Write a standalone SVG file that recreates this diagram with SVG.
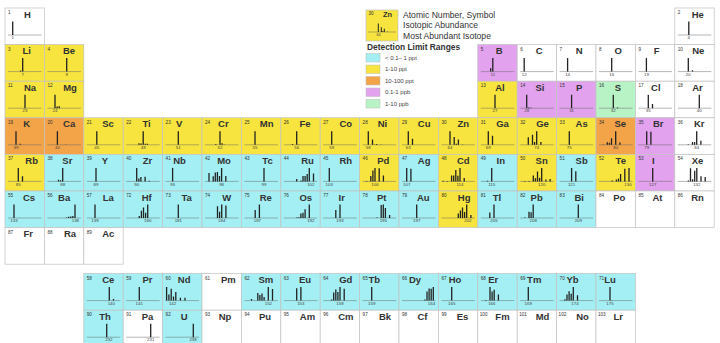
<svg xmlns="http://www.w3.org/2000/svg" width="720" height="343" viewBox="0 0 720 343">
<style>
.c{stroke:#c2c2c2;stroke-width:0.7}
.w{fill:#ffffff}.y{fill:#f7e43e}.o{fill:#f3a448}.p{fill:#e2a2ee}.g{fill:#b8f3c6}.b{fill:#a3eff3}
.n{font-family:"Liberation Sans",Arial,sans-serif;font-size:4.6px;fill:#333}
.s{font-family:"Liberation Sans",Arial,sans-serif;font-size:9.5px;font-weight:bold;fill:#333;text-anchor:middle}
.m{font-family:"Liberation Sans",Arial,sans-serif;font-size:4.4px;fill:#444;text-anchor:middle}
.ax{stroke:#6a6a6a;stroke-width:0.5;fill:none}
.br{stroke:#222;stroke-width:1.3;fill:none}
.lt{font-family:"Liberation Sans",Arial,sans-serif;font-size:8.6px;fill:#333}
.lh{font-family:"Liberation Sans",Arial,sans-serif;font-size:8.4px;font-weight:bold;fill:#333}
.ls{font-family:"Liberation Sans",Arial,sans-serif;font-size:6px;fill:#444}
.sw{stroke:#bbb;stroke-width:0.5}
</style>
<defs><path id="ax" class="ax" d="M3 27H36.5"/></defs>

<g id="legend">
<g id="legend-key">
<rect class="c y" x="366" y="10" width="32" height="31"/>
<text class="n" x="368.5" y="15">30</text>
<text class="s" x="387.5" y="17.3" style="font-size:7.5px">Zn</text>
<path class="ax" d="M368 32H396"/>
<path class="br" style="stroke-width:1" d="M378.3 32v-8.5M381.3 32v-4.8M382.8 32v-0.9M384.3 32v-3.3M387.3 32v-0.4"/>
<text class="m" x="378.5" y="36" style="font-size:3.8px">64</text>
</g>
<text class="lt" x="403" y="17.5">Atomic Number, Symbol</text>
<text class="lt" x="403" y="28">Isotopic Abundance</text>
<text class="lt" x="403" y="38.5">Most Abundant Isotope</text>
<text class="lh" x="367" y="50">Detection Limit Ranges</text>
<rect class="sw b" x="366" y="53.5" width="14" height="8.5"/>
<rect class="sw y" x="366" y="65" width="14" height="8.5"/>
<rect class="sw o" x="366" y="76.5" width="14" height="8.5"/>
<rect class="sw p" x="366" y="88" width="14" height="8.5"/>
<rect class="sw g" x="366" y="99.5" width="14" height="8.5"/>
<text class="ls" x="385" y="59.8">&lt; 0.1– 1 ppt</text>
<text class="ls" x="385" y="71.3">1-10 ppt</text>
<text class="ls" x="385" y="82.8">10-100 ppt</text>
<text class="ls" x="385" y="94.3">0.1-1 ppb</text>
<text class="ls" x="385" y="105.8">1-10 ppb</text>
</g>

<g id="H" transform="translate(5,8)"><rect class="c w" width="39.4" height="36.6"/><text class="n" x="3" y="6">1</text><text class="s" x="22.5" y="9.5">H</text><use href="#ax"/><path class="br" d="M7.7 27v-13.5"/><text class="m" x="7.7" y="31.3">1</text></g>
<g id="He" transform="translate(674.8,8)"><rect class="c w" width="39.4" height="36.6"/><text class="n" x="3" y="6">2</text><text class="s" x="23" y="9.5">He</text><use href="#ax"/><path class="br" d="M14 27v-13.5"/><text class="m" x="14" y="31.3">4</text></g>

<g id="Li" transform="translate(5,44.6)"><rect class="c y" width="39.4" height="36.6"/><text class="n" x="3" y="6">3</text><text class="s" x="21.7" y="9.5">Li</text><use href="#ax"/><path class="br" d="M17.7 27v-13.5M15.6 27v-1.1"/><text class="m" x="17.7" y="31.3">7</text></g>
<g id="Be" transform="translate(44.4,44.6)"><rect class="c y" width="39.4" height="36.6"/><text class="n" x="3" y="6">4</text><text class="s" x="24.7" y="9.5">Be</text><use href="#ax"/><path class="br" d="M22.3 27v-13.5"/><text class="m" x="22.3" y="31.3">9</text></g>
<g id="B" transform="translate(477.8,44.6)"><rect class="c p" width="39.4" height="36.6"/><text class="n" x="3" y="6">5</text><text class="s" x="21.4" y="9.5">B</text><use href="#ax"/><path class="br" d="M15 27v-13.5M12.9 27v-3.4"/><text class="m" x="15" y="31.3">11</text></g>
<g id="C" transform="translate(517.2,44.6)"><rect class="c w" width="39.4" height="36.6"/><text class="n" x="3" y="6">6</text><text class="s" x="22" y="9.5">C</text><use href="#ax"/><path class="br" d="M7 27v-13.5"/><text class="m" x="7" y="31.3">12</text></g>
<g id="N" transform="translate(556.6,44.6)"><rect class="c w" width="39.4" height="36.6"/><text class="n" x="3" y="6">7</text><text class="s" x="22.6" y="9.5">N</text><use href="#ax"/><path class="br" d="M11 27v-13.5"/><text class="m" x="11" y="31.3">14</text></g>
<g id="O" transform="translate(596,44.6)"><rect class="c w" width="39.4" height="36.6"/><text class="n" x="3" y="6">8</text><text class="s" x="22.3" y="9.5">O</text><use href="#ax"/><path class="br" d="M15.7 27v-13.5"/><text class="m" x="15.7" y="31.3">16</text></g>
<g id="F" transform="translate(635.4,44.6)"><rect class="c w" width="39.4" height="36.6"/><text class="n" x="3" y="6">9</text><text class="s" x="21.3" y="9.5">F</text><use href="#ax"/><path class="br" d="M11 27v-13.5"/><text class="m" x="11" y="31.3">19</text></g>
<g id="Ne" transform="translate(674.8,44.6)"><rect class="c w" width="39.4" height="36.6"/><text class="n" x="3" y="6">10</text><text class="s" x="23.5" y="9.5">Ne</text><use href="#ax"/><path class="br" d="M13.5 27v-13.5M17.7 27v-1.4"/><text class="m" x="13.5" y="31.3">20</text></g>

<g id="Na" transform="translate(5,81.2)"><rect class="c y" width="39.4" height="36.6"/><text class="n" x="3" y="6">11</text><text class="s" x="25" y="9.5">Na</text><use href="#ax"/><path class="br" d="M20 27v-13.5"/><text class="m" x="20" y="31.3">23</text></g>
<g id="Mg" transform="translate(44.4,81.2)"><rect class="c y" width="39.4" height="36.6"/><text class="n" x="3" y="6">12</text><text class="s" x="25.6" y="9.5">Mg</text><use href="#ax"/><path class="br" d="M10.6 27v-13.5M12.7 27v-1.7M14.8 27v-1.9"/><text class="m" x="10.6" y="31.3">24</text></g>
<g id="Al" transform="translate(477.8,81.2)"><rect class="c y" width="39.4" height="36.6"/><text class="n" x="3" y="6">13</text><text class="s" x="22.2" y="9.5">Al</text><use href="#ax"/><path class="br" d="M17.2 27v-13.5"/><text class="m" x="17.2" y="31.3">27</text></g>
<g id="Si" transform="translate(517.2,81.2)"><rect class="c p" width="39.4" height="36.6"/><text class="n" x="3" y="6">14</text><text class="s" x="22.8" y="9.5">Si</text><use href="#ax"/><path class="br" d="M9.5 27v-13.5M11.6 27v-0.7M13.7 27v-0.5"/><text class="m" x="9.5" y="31.3">28</text></g>
<g id="P" transform="translate(556.6,81.2)"><rect class="c p" width="39.4" height="36.6"/><text class="n" x="3" y="6">15</text><text class="s" x="22.7" y="9.5">P</text><use href="#ax"/><path class="br" d="M15 27v-13.5"/><text class="m" x="15" y="31.3">31</text></g>
<g id="S" transform="translate(596,81.2)"><rect class="c g" width="39.4" height="36.6"/><text class="n" x="3" y="6">16</text><text class="s" x="21.8" y="9.5">S</text><use href="#ax"/><path class="br" d="M17.3 27v-13.5M21.5 27v-0.6"/><text class="m" x="17.3" y="31.3">32</text></g>
<g id="Cl" transform="translate(635.4,81.2)"><rect class="c w" width="39.4" height="36.6"/><text class="n" x="3" y="6">17</text><text class="s" x="20.4" y="9.5">Cl</text><use href="#ax"/><path class="br" d="M12.9 27v-13.5M17.1 27v-4.3"/><text class="m" x="12.9" y="31.3">35</text></g>
<g id="Ar" transform="translate(674.8,81.2)"><rect class="c w" width="39.4" height="36.6"/><text class="n" x="3" y="6">18</text><text class="s" x="22.7" y="9.5">Ar</text><use href="#ax"/><path class="br" d="M24.5 27v-13.5"/><text class="m" x="24.5" y="31.3">40</text></g>

<g id="K" transform="translate(5,117.8)"><rect class="c o" width="39.4" height="36.6"/><text class="n" x="3" y="6">19</text><text class="s" x="21.7" y="9.5">K</text><use href="#ax"/><path class="br" d="M11 27v-13.5M15.2 27v-1"/><text class="m" x="11" y="31.3">39</text></g>
<g id="Ca" transform="translate(44.4,117.8)"><rect class="c o" width="39.4" height="36.6"/><text class="n" x="3" y="6">20</text><text class="s" x="24.8" y="9.5">Ca</text><use href="#ax"/><path class="br" d="M13 27v-13.5M21.4 27v-0.4"/><text class="m" x="13" y="31.3">40</text></g>
<g id="Sc" transform="translate(83.8,117.8)"><rect class="c y" width="39.4" height="36.6"/><text class="n" x="3" y="6">21</text><text class="s" x="24.2" y="9.5">Sc</text><use href="#ax"/><path class="br" d="M13 27v-13.5"/><text class="m" x="13" y="31.3">45</text></g>
<g id="Ti" transform="translate(123.2,117.8)"><rect class="c y" width="39.4" height="36.6"/><text class="n" x="3" y="6">22</text><text class="s" x="23.4" y="9.5">Ti</text><use href="#ax"/><path class="br" d="M20 27v-13.5M15.8 27v-1.5M17.9 27v-1.4M22.1 27v-1M24.2 27v-1"/><text class="m" x="20" y="31.3">48</text></g>
<g id="V" transform="translate(162.6,117.8)"><rect class="c y" width="39.4" height="36.6"/><text class="n" x="3" y="6">23</text><text class="s" x="16.5" y="9.5">V</text><use href="#ax"/><path class="br" d="M15.7 27v-13.5"/><text class="m" x="15.7" y="31.3">51</text></g>
<g id="Cr" transform="translate(202,117.8)"><rect class="c y" width="39.4" height="36.6"/><text class="n" x="3" y="6">24</text><text class="s" x="21.3" y="9.5">Cr</text><use href="#ax"/><path class="br" d="M18 27v-13.5M13.8 27v-0.7M20.1 27v-1.5M22.2 27v-0.4"/><text class="m" x="18" y="31.3">52</text></g>
<g id="Mn" transform="translate(241.4,117.8)"><rect class="c y" width="39.4" height="36.6"/><text class="n" x="3" y="6">25</text><text class="s" x="25.3" y="9.5">Mn</text><use href="#ax"/><path class="br" d="M13.6 27v-13.5"/><text class="m" x="13.6" y="31.3">55</text></g>
<g id="Fe" transform="translate(280.8,117.8)"><rect class="c y" width="39.4" height="36.6"/><text class="n" x="3" y="6">26</text><text class="s" x="24.2" y="9.5">Fe</text><use href="#ax"/><path class="br" d="M15.9 27v-13.5M11.7 27v-0.9M18 27v-0.4"/><text class="m" x="15.9" y="31.3">56</text></g>
<g id="Co" transform="translate(320.2,117.8)"><rect class="c y" width="39.4" height="36.6"/><text class="n" x="3" y="6">27</text><text class="s" x="25.6" y="9.5">Co</text><use href="#ax"/><path class="br" d="M11.5 27v-13.5"/><text class="m" x="11.5" y="31.3">59</text></g>
<g id="Ni" transform="translate(359.6,117.8)"><rect class="c y" width="39.4" height="36.6"/><text class="n" x="3" y="6">28</text><text class="s" x="22.9" y="9.5">Ni</text><use href="#ax"/><path class="br" d="M8.7 27v-13.5M12.9 27v-5.2M15 27v-0.4M17.1 27v-0.7M21.3 27v-0.4"/><text class="m" x="8.7" y="31.3">58</text></g>
<g id="Cu" transform="translate(399,117.8)"><rect class="c y" width="39.4" height="36.6"/><text class="n" x="3" y="6">29</text><text class="s" x="25.2" y="9.5">Cu</text><use href="#ax"/><path class="br" d="M9.3 27v-13.5M13.5 27v-6"/><text class="m" x="9.3" y="31.3">63</text></g>
<g id="Zn" transform="translate(438.4,117.8)"><rect class="c y" width="39.4" height="36.6"/><text class="n" x="3" y="6">30</text><text class="s" x="24.9" y="9.5">Zn</text><use href="#ax"/><path class="br" d="M11.6 27v-13.5M15.8 27v-7.8M17.9 27v-1.1M20 27v-5.2M24.2 27v-0.4"/><text class="m" x="11.6" y="31.3">64</text></g>
<g id="Ga" transform="translate(477.8,117.8)"><rect class="c y" width="39.4" height="36.6"/><text class="n" x="3" y="6">31</text><text class="s" x="24.7" y="9.5">Ga</text><use href="#ax"/><path class="br" d="M10.5 27v-13.5M14.7 27v-9"/><text class="m" x="10.5" y="31.3">69</text></g>
<g id="Ge" transform="translate(517.2,117.8)"><rect class="c y" width="39.4" height="36.6"/><text class="n" x="3" y="6">32</text><text class="s" x="25.3" y="9.5">Ge</text><use href="#ax"/><path class="br" d="M19.5 27v-13.5M11.1 27v-7.6M15.3 27v-10.1M17.4 27v-2.9M23.7 27v-2.9"/><text class="m" x="19.5" y="31.3">74</text></g>
<g id="As" transform="translate(556.6,117.8)"><rect class="c y" width="39.4" height="36.6"/><text class="n" x="3" y="6">33</text><text class="s" x="25.1" y="9.5">As</text><use href="#ax"/><path class="br" d="M12.7 27v-13.5"/><text class="m" x="12.7" y="31.3">75</text></g>
<g id="Se" transform="translate(596,117.8)"><rect class="c o" width="39.4" height="36.6"/><text class="n" x="3" y="6">34</text><text class="s" x="24.3" y="9.5">Se</text><use href="#ax"/><path class="br" d="M19.7 27v-13.5M7.1 27v-0.4M11.3 27v-2.6M13.4 27v-2.1M15.5 27v-6.5M23.9 27v-2.4"/><text class="m" x="19.7" y="31.3">80</text></g>
<g id="Br" transform="translate(635.4,117.8)"><rect class="c p" width="39.4" height="36.6"/><text class="n" x="3" y="6">35</text><text class="s" x="22.9" y="9.5">Br</text><use href="#ax"/><path class="br" d="M11.3 27v-13.5M15.5 27v-13.1"/><text class="m" x="11.3" y="31.3">79</text></g>
<g id="Kr" transform="translate(674.8,117.8)"><rect class="c w" width="39.4" height="36.6"/><text class="n" x="3" y="6">36</text><text class="s" x="24.4" y="9.5">Kr</text><use href="#ax"/><path class="br" d="M21.9 27v-13.5M13.5 27v-0.5M17.7 27v-2.7M19.8 27v-2.7M26.1 27v-4.1"/><text class="m" x="21.9" y="31.3">84</text></g>

<g id="Rb" transform="translate(5,154.4)"><rect class="c y" width="39.4" height="36.6"/><text class="n" x="3" y="6">37</text><text class="s" x="26.7" y="9.5">Rb</text><use href="#ax"/><path class="br" d="M13.3 27v-13.5M17.5 27v-5.2"/><text class="m" x="13.3" y="31.3">85</text></g>
<g id="Sr" transform="translate(44.4,154.4)"><rect class="c b" width="39.4" height="36.6"/><text class="n" x="3" y="6">38</text><text class="s" x="23" y="9.5">Sr</text><use href="#ax"/><path class="br" d="M18.3 27v-13.5M14.1 27v-1.6M16.2 27v-1.1"/><text class="m" x="18.3" y="31.3">88</text></g>
<g id="Y" transform="translate(83.8,154.4)"><rect class="c b" width="39.4" height="36.6"/><text class="n" x="3" y="6">39</text><text class="s" x="21" y="9.5">Y</text><use href="#ax"/><path class="br" d="M12.2 27v-13.5"/><text class="m" x="12.2" y="31.3">89</text></g>
<g id="Zr" transform="translate(123.2,154.4)"><rect class="c b" width="39.4" height="36.6"/><text class="n" x="3" y="6">40</text><text class="s" x="24.3" y="9.5">Zr</text><use href="#ax"/><path class="br" d="M13.5 27v-13.5M15.6 27v-2.9M17.7 27v-4.5M21.9 27v-4.6M26.1 27v-0.7"/><text class="m" x="13.5" y="31.3">90</text></g>
<g id="Nb" transform="translate(162.6,154.4)"><rect class="c b" width="39.4" height="36.6"/><text class="n" x="3" y="6">41</text><text class="s" x="17" y="9.5">Nb</text><use href="#ax"/><path class="br" d="M10 27v-13.5"/><text class="m" x="10" y="31.3">93</text></g>
<g id="Mo" transform="translate(202,154.4)"><rect class="c b" width="39.4" height="36.6"/><text class="n" x="3" y="6">42</text><text class="s" x="22" y="9.5">Mo</text><use href="#ax"/><path class="br" d="M19.6 27v-13.5M7 27v-8.3M11.2 27v-5.2M13.3 27v-8.9M15.4 27v-9.3M17.5 27v-5.4M23.8 27v-5.4"/><text class="m" x="19.6" y="31.3">98</text></g>
<g id="Tc" transform="translate(241.4,154.4)"><rect class="c b" width="39.4" height="36.6"/><text class="n" x="3" y="6">43</text><text class="s" x="26.1" y="9.5">Tc</text><use href="#ax"/><path class="br" d="M22.6 27v-13.5"/><text class="m" x="22.6" y="31.3">99</text></g>
<g id="Ru" transform="translate(280.8,154.4)"><rect class="c b" width="39.4" height="36.6"/><text class="n" x="3" y="6">44</text><text class="s" x="26.7" y="9.5">Ru</text><use href="#ax"/><path class="br" d="M28.5 27v-13.5M15.9 27v-2.4M20.1 27v-0.8M22.2 27v-5.5M24.3 27v-5.4M26.4 27v-7.3M32.7 27v-8"/><text class="m" x="30" y="31.3">102</text></g>
<g id="Rh" transform="translate(320.2,154.4)"><rect class="c b" width="39.4" height="36.6"/><text class="n" x="3" y="6">45</text><text class="s" x="25.6" y="9.5">Rh</text><use href="#ax"/><path class="br" d="M9.1 27v-13.5"/><text class="m" x="9.1" y="31.3">103</text></g>
<g id="Pd" transform="translate(359.6,154.4)"><rect class="c y" width="39.4" height="36.6"/><text class="n" x="3" y="6">46</text><text class="s" x="23.7" y="9.5">Pd</text><use href="#ax"/><path class="br" d="M15.4 27v-13.5M7 27v-0.5M11.2 27v-5.5M13.3 27v-11M19.6 27v-13.1M23.8 27v-5.8"/><text class="m" x="15.4" y="31.3">106</text></g>
<g id="Ag" transform="translate(399,154.4)"><rect class="c b" width="39.4" height="36.6"/><text class="n" x="3" y="6">47</text><text class="s" x="25.2" y="9.5">Ag</text><use href="#ax"/><path class="br" d="M7.7 27v-13.5M11.9 27v-12.6"/><text class="m" x="7.7" y="31.3">107</text></g>
<g id="Cd" transform="translate(438.4,154.4)"><rect class="c y" width="39.4" height="36.6"/><text class="n" x="3" y="6">48</text><text class="s" x="24.9" y="9.5">Cd</text><use href="#ax"/><path class="br" d="M21.6 27v-13.5M4.8 27v-0.6M9 27v-0.4M13.2 27v-5.9M15.3 27v-6M17.4 27v-11.3M19.5 27v-5.7M25.8 27v-3.5"/><text class="m" x="21.6" y="31.3">114</text></g>
<g id="In" transform="translate(477.8,154.4)"><rect class="c b" width="39.4" height="36.6"/><text class="n" x="3" y="6">49</text><text class="s" x="23" y="9.5">In</text><use href="#ax"/><path class="br" d="M13.9 27v-13.5M9.7 27v-0.6"/><text class="m" x="13.9" y="31.3">115</text></g>
<g id="Sn" transform="translate(517.2,154.4)"><rect class="c y" width="39.4" height="36.6"/><text class="n" x="3" y="6">50</text><text class="s" x="24.5" y="9.5">Sn</text><use href="#ax"/><path class="br" d="M24.5 27v-13.5M7.7 27v-0.4M11.9 27v-0.4M16.1 27v-6M18.2 27v-3.2M20.3 27v-10M22.4 27v-3.6M28.7 27v-1.9M32.9 27v-2.4"/><text class="m" x="24.5" y="31.3">120</text></g>
<g id="Sb" transform="translate(556.6,154.4)"><rect class="c b" width="39.4" height="36.6"/><text class="n" x="3" y="6">51</text><text class="s" x="25.1" y="9.5">Sb</text><use href="#ax"/><path class="br" d="M15 27v-13.5M19.2 27v-10.1"/><text class="m" x="15" y="31.3">121</text></g>
<g id="Te" transform="translate(596,154.4)"><rect class="c y" width="39.4" height="36.6"/><text class="n" x="3" y="6">52</text><text class="s" x="24.8" y="9.5">Te</text><use href="#ax"/><path class="br" d="M33 27v-13.5M28.8 27v-12.6M24.6 27v-7.5M22.5 27v-2.8M20.4 27v-1.9M16.2 27v-1"/><text class="m" x="32" y="31.3">130</text></g>
<g id="I" transform="translate(635.4,154.4)"><rect class="c p" width="39.4" height="36.6"/><text class="n" x="3" y="6">53</text><text class="s" x="17.9" y="9.5">I</text><use href="#ax"/><path class="br" d="M17.3 27v-13.5"/><text class="m" x="17.3" y="31.3">127</text></g>
<g id="Xe" transform="translate(674.8,154.4)"><rect class="c w" width="39.4" height="36.6"/><text class="n" x="3" y="6">54</text><text class="s" x="22.7" y="9.5">Xe</text><use href="#ax"/><path class="br" d="M22 27v-13.5M15.7 27v-13.2M19.9 27v-10.6M26.2 27v-5.2M30.4 27v-4.5M17.8 27v-2.1M13.6 27v-1"/><text class="m" x="22" y="31.3">132</text></g>

<g id="Cs" transform="translate(5,191)"><rect class="c b" width="39.4" height="36.6"/><text class="n" x="3" y="6">55</text><text class="s" x="24" y="9.5">Cs</text><use href="#ax"/><path class="br" d="M9 27v-13.5"/><text class="m" x="9" y="31.3">133</text></g>
<g id="Ba" transform="translate(44.4,191)"><rect class="c b" width="39.4" height="36.6"/><text class="n" x="3" y="6">56</text><text class="s" x="19.8" y="9.5">Ba</text><use href="#ax"/><path class="br" d="M30.6 27v-13.5M28.5 27v-2.1M26.4 27v-1.5M24.3 27v-1.2M22.2 27v-0.5"/><text class="m" x="31" y="31.3">138</text></g>
<g id="La" transform="translate(83.8,191)"><rect class="c b" width="39.4" height="36.6"/><text class="n" x="3" y="6">57</text><text class="s" x="24.5" y="9.5">La</text><use href="#ax"/><path class="br" d="M11.2 27v-13.5"/><text class="m" x="11.2" y="31.3">139</text></g>
<g id="Hf" transform="translate(123.2,191)"><rect class="c b" width="39.4" height="36.6"/><text class="n" x="3" y="6">72</text><text class="s" x="23.5" y="9.5">Hf</text><use href="#ax"/><path class="br" d="M24.5 27v-13.5M22.4 27v-5.2M20.3 27v-10.5M18.2 27v-7.2M16.1 27v-2"/><text class="m" x="24.5" y="31.3">180</text></g>
<g id="Ta" transform="translate(162.6,191)"><rect class="c b" width="39.4" height="36.6"/><text class="n" x="3" y="6">73</text><text class="s" x="24" y="9.5">Ta</text><use href="#ax"/><path class="br" d="M15.7 27v-13.5"/><text class="m" x="15.7" y="31.3">181</text></g>
<g id="W" transform="translate(202,191)"><rect class="c b" width="39.4" height="36.6"/><text class="n" x="3" y="6">74</text><text class="s" x="24.7" y="9.5">W</text><use href="#ax"/><path class="br" d="M19.7 27v-13.5M15.5 27v-11.7M17.6 27v-6.3M23.9 27v-12.5"/><text class="m" x="19.7" y="31.3">184</text></g>
<g id="Re" transform="translate(241.4,191)"><rect class="c b" width="39.4" height="36.6"/><text class="n" x="3" y="6">75</text><text class="s" x="24.4" y="9.5">Re</text><use href="#ax"/><path class="br" d="M18 27v-13.5M13.8 27v-8.1"/><text class="m" x="16" y="31.3">187</text></g>
<g id="Os" transform="translate(280.8,191)"><rect class="c b" width="39.4" height="36.6"/><text class="n" x="3" y="6">76</text><text class="s" x="25" y="9.5">Os</text><use href="#ax"/><path class="br" d="M28.5 27v-13.5M24.3 27v-8.7M22.2 27v-5.3M20.1 27v-4.4M18 27v-0.7M15.9 27v-0.5"/><text class="m" x="30" y="31.3">192</text></g>
<g id="Ir" transform="translate(320.2,191)"><rect class="c b" width="39.4" height="36.6"/><text class="n" x="3" y="6">77</text><text class="s" x="21.5" y="9.5">Ir</text><use href="#ax"/><path class="br" d="M19.8 27v-13.5M15.6 27v-8"/><text class="m" x="19.8" y="31.3">193</text></g>
<g id="Pt" transform="translate(359.6,191)"><rect class="c b" width="39.4" height="36.6"/><text class="n" x="3" y="6">78</text><text class="s" x="22.1" y="9.5">Pt</text><use href="#ax"/><path class="br" d="M23.7 27v-13.5M21.6 27v-13.1M25.8 27v-10.1M30 27v-3M17.4 27v-0.4"/><text class="m" x="23.7" y="31.3">195</text></g>
<g id="Au" transform="translate(399,191)"><rect class="c b" width="39.4" height="36.6"/><text class="n" x="3" y="6">79</text><text class="s" x="24.3" y="9.5">Au</text><use href="#ax"/><path class="br" d="M17.7 27v-13.5"/><text class="m" x="17.7" y="31.3">197</text></g>
<g id="Hg" transform="translate(438.4,191)"><rect class="c y" width="39.4" height="36.6"/><text class="n" x="3" y="6">80</text><text class="s" x="25.8" y="9.5">Hg</text><use href="#ax"/><path class="br" d="M28.3 27v-13.5M19.9 27v-4.5M22 27v-7.6M24.1 27v-10.4M26.2 27v-6M32.5 27v-3.1"/><text class="m" x="29.5" y="31.3">202</text></g>
<g id="Tl" transform="translate(477.8,191)"><rect class="c b" width="39.4" height="36.6"/><text class="n" x="3" y="6">81</text><text class="s" x="19.2" y="9.5">Tl</text><use href="#ax"/><path class="br" d="M16.2 27v-13.5M12 27v-5.6"/><text class="m" x="16.2" y="31.3">205</text></g>
<g id="Pb" transform="translate(517.2,191)"><rect class="c b" width="39.4" height="36.6"/><text class="n" x="3" y="6">82</text><text class="s" x="19.5" y="9.5">Pb</text><use href="#ax"/><path class="br" d="M16 27v-13.5M13.9 27v-5.7M11.8 27v-6.2M7.6 27v-0.4"/><text class="m" x="16" y="31.3">208</text></g>
<g id="Bi" transform="translate(556.6,191)"><rect class="c b" width="39.4" height="36.6"/><text class="n" x="3" y="6">83</text><text class="s" x="22.6" y="9.5">Bi</text><use href="#ax"/><path class="br" d="M21.7 27v-13.5"/><text class="m" x="21.7" y="31.3">209</text></g>
<g id="Po" transform="translate(596,191)"><rect class="c w" width="39.4" height="36.6"/><text class="n" x="3" y="6">84</text><text class="s" x="23.2" y="9.5">Po</text></g>
<g id="At" transform="translate(635.4,191)"><rect class="c w" width="39.4" height="36.6"/><text class="n" x="3" y="6">85</text><text class="s" x="22.1" y="9.5">At</text></g>
<g id="Rn" transform="translate(674.8,191)"><rect class="c w" width="39.4" height="36.6"/><text class="n" x="3" y="6">86</text><text class="s" x="22.7" y="9.5">Rn</text></g>

<g id="Fr" transform="translate(5,227.6)"><rect class="c w" width="39.4" height="36.6"/><text class="n" x="3" y="6">87</text><text class="s" x="23.3" y="9.5">Fr</text></g>
<g id="Ra" transform="translate(44.4,227.6)"><rect class="c w" width="39.4" height="36.6"/><text class="n" x="3" y="6">88</text><text class="s" x="25.6" y="9.5">Ra</text></g>
<g id="Ac" transform="translate(83.8,227.6)"><rect class="c w" width="39.4" height="36.6"/><text class="n" x="3" y="6">89</text><text class="s" x="24.5" y="9.5">Ac</text></g>

<g id="Ce" transform="translate(83.8,273.6)"><rect class="c b" width="39.4" height="36.6"/><text class="n" x="3" y="6">58</text><text class="s" x="24.5" y="9.5">Ce</text><use href="#ax"/><path class="br" d="M25.5 27v-13.5M29.7 27v-1.7"/><text class="m" x="27.5" y="31.3">140</text></g>
<g id="Pr" transform="translate(123.2,273.6)"><rect class="c b" width="39.4" height="36.6"/><text class="n" x="3" y="6">59</text><text class="s" x="24.3" y="9.5">Pr</text><use href="#ax"/><path class="br" d="M16.1 27v-13.5"/><text class="m" x="16.1" y="31.3">141</text></g>
<g id="Nd" transform="translate(162.6,273.6)"><rect class="c b" width="39.4" height="36.6"/><text class="n" x="3" y="6">60</text><text class="s" x="21.6" y="9.5">Nd</text><use href="#ax"/><path class="br" d="M4 27v-13.5M6.3 27v-6.1M8.6 27v-11.8M10.9 27v-4.1M13.2 27v-8.5M17.8 27v-2.8M22.4 27v-2.8"/><text class="m" x="10" y="31.3">142</text></g>
<g id="Pm" transform="translate(202,273.6)"><rect class="c w" width="39.4" height="36.6"/><text class="n" x="3" y="6">61</text><text class="s" x="26.3" y="9.5">Pm</text></g>
<g id="Sm" transform="translate(241.4,273.6)"><rect class="c b" width="39.4" height="36.6"/><text class="n" x="3" y="6">62</text><text class="s" x="24.4" y="9.5">Sm</text><use href="#ax"/><path class="br" d="M26.9 27v-13.5M31.1 27v-11.5M22.7 27v-3.7M20.6 27v-7M18.5 27v-5.7M16.4 27v-7.6M10.1 27v-1.6"/><text class="m" x="27" y="31.3">152</text></g>
<g id="Eu" transform="translate(280.8,273.6)"><rect class="c b" width="39.4" height="36.6"/><text class="n" x="3" y="6">63</text><text class="s" x="24.2" y="9.5">Eu</text><use href="#ax"/><path class="br" d="M20.1 27v-13.5M15.9 27v-12.4"/><text class="m" x="20" y="31.3">153</text></g>
<g id="Gd" transform="translate(320.2,273.6)"><rect class="c b" width="39.4" height="36.6"/><text class="n" x="3" y="6">64</text><text class="s" x="25.6" y="9.5">Gd</text><use href="#ax"/><path class="br" d="M19.8 27v-13.5M24 27v-11.9M17.7 27v-8.5M15.6 27v-11.2M13.5 27v-8.1M11.4 27v-1.2"/><text class="m" x="19.8" y="31.3">158</text></g>
<g id="Tb" transform="translate(359.6,273.6)"><rect class="c b" width="39.4" height="36.6"/><text class="n" x="3" y="6">65</text><text class="s" x="14.6" y="9.5">Tb</text><use href="#ax"/><path class="br" d="M12.1 27v-13.5"/><text class="m" x="12.1" y="31.3">159</text></g>
<g id="Dy" transform="translate(399,273.6)"><rect class="c b" width="39.4" height="36.6"/><text class="n" x="3" y="6">66</text><text class="s" x="16" y="9.5">Dy</text><use href="#ax"/><path class="br" d="M34.3 27v-13.5M32.2 27v-11.9M30.1 27v-12.2M28 27v-9M25.9 27v-1.1"/><text class="m" x="32.5" y="31.3">164</text></g>
<g id="Ho" transform="translate(438.4,273.6)"><rect class="c b" width="39.4" height="36.6"/><text class="n" x="3" y="6">67</text><text class="s" x="16.6" y="9.5">Ho</text><use href="#ax"/><path class="br" d="M13.3 27v-13.5"/><text class="m" x="13.3" y="31.3">165</text></g>
<g id="Er" transform="translate(477.8,273.6)"><rect class="c b" width="39.4" height="36.6"/><text class="n" x="3" y="6">68</text><text class="s" x="15.5" y="9.5">Er</text><use href="#ax"/><path class="br" d="M12.2 27v-13.5M14.3 27v-9.2M16.4 27v-10.8M20.6 27v-6M8 27v-0.6"/><text class="m" x="14" y="31.3">166</text></g>
<g id="Tm" transform="translate(517.2,273.6)"><rect class="c b" width="39.4" height="36.6"/><text class="n" x="3" y="6">69</text><text class="s" x="17" y="9.5">Tm</text><use href="#ax"/><path class="br" d="M11.1 27v-13.5"/><text class="m" x="11.1" y="31.3">169</text></g>
<g id="Yb" transform="translate(556.6,273.6)"><rect class="c b" width="39.4" height="36.6"/><text class="n" x="3" y="6">70</text><text class="s" x="15.9" y="9.5">Yb</text><use href="#ax"/><path class="br" d="M16.7 27v-13.5M20.9 27v-5.4M14.6 27v-6.8M12.5 27v-9.3M10.4 27v-6.1M8.3 27v-1.3"/><text class="m" x="18.4" y="31.3">174</text></g>
<g id="Lu" transform="translate(596,273.6)"><rect class="c b" width="39.4" height="36.6"/><text class="n" x="3" y="6">71</text><text class="s" x="14" y="9.5">Lu</text><use href="#ax"/><path class="br" d="M14 27v-13.5M16.1 27v-0.4"/><text class="m" x="14" y="31.3">175</text></g>

<g id="Th" transform="translate(83.8,310.2)"><rect class="c b" width="39.4" height="36.6"/><text class="n" x="3" y="6">90</text><text class="s" x="21.2" y="9.5">Th</text><use href="#ax"/><path class="br" d="M22.9 27v-13.5"/><text class="m" x="25" y="31.3">232</text></g>
<g id="Pa" transform="translate(123.2,310.2)"><rect class="c w" width="39.4" height="36.6"/><text class="n" x="3" y="6">91</text><text class="s" x="24.3" y="9.5">Pa</text><use href="#ax"/><path class="br" d="M27.5 27v-13.5"/><text class="m" x="27.5" y="31.3">231</text></g>
<g id="U" transform="translate(162.6,310.2)"><rect class="c b" width="39.4" height="36.6"/><text class="n" x="3" y="6">92</text><text class="s" x="21.6" y="9.5">U</text><use href="#ax"/><path class="br" d="M30.7 27v-13.5"/><text class="m" x="30.5" y="31.3">238</text></g>
<g id="Np" transform="translate(202,310.2)"><rect class="c w" width="39.4" height="36.6"/><text class="n" x="3" y="6">93</text><text class="s" x="23" y="9.5">Np</text></g>
<g id="Pu" transform="translate(241.4,310.2)"><rect class="c w" width="39.4" height="36.6"/><text class="n" x="3" y="6">94</text><text class="s" x="23.6" y="9.5">Pu</text></g>
<g id="Am" transform="translate(280.8,310.2)"><rect class="c w" width="39.4" height="36.6"/><text class="n" x="3" y="6">95</text><text class="s" x="26.7" y="9.5">Am</text></g>
<g id="Cm" transform="translate(320.2,310.2)"><rect class="c w" width="39.4" height="36.6"/><text class="n" x="3" y="6">96</text><text class="s" x="25.6" y="9.5">Cm</text></g>
<g id="Bk" transform="translate(359.6,310.2)"><rect class="c w" width="39.4" height="36.6"/><text class="n" x="3" y="6">97</text><text class="s" x="25.4" y="9.5">Bk</text></g>
<g id="Cf" transform="translate(399,310.2)"><rect class="c w" width="39.4" height="36.6"/><text class="n" x="3" y="6">98</text><text class="s" x="23.5" y="9.5">Cf</text></g>
<g id="Es" transform="translate(438.4,310.2)"><rect class="c w" width="39.4" height="36.6"/><text class="n" x="3" y="6">99</text><text class="s" x="24.1" y="9.5">Es</text></g>
<g id="Fm" transform="translate(477.8,310.2)"><rect class="c w" width="39.4" height="36.6"/><text class="n" x="2" y="6">100</text><text class="s" x="24.7" y="9.5">Fm</text></g>
<g id="Md" transform="translate(517.2,310.2)"><rect class="c w" width="39.4" height="36.6"/><text class="n" x="2" y="6">101</text><text class="s" x="25.3" y="9.5">Md</text></g>
<g id="No" transform="translate(556.6,310.2)"><rect class="c w" width="39.4" height="36.6"/><text class="n" x="2" y="6">102</text><text class="s" x="25.9" y="9.5">No</text></g>
<g id="Lr" transform="translate(596,310.2)"><rect class="c w" width="39.4" height="36.6"/><text class="n" x="2" y="6">103</text><text class="s" x="22.3" y="9.5">Lr</text></g>

<g id="connectors"></g>
</svg>
